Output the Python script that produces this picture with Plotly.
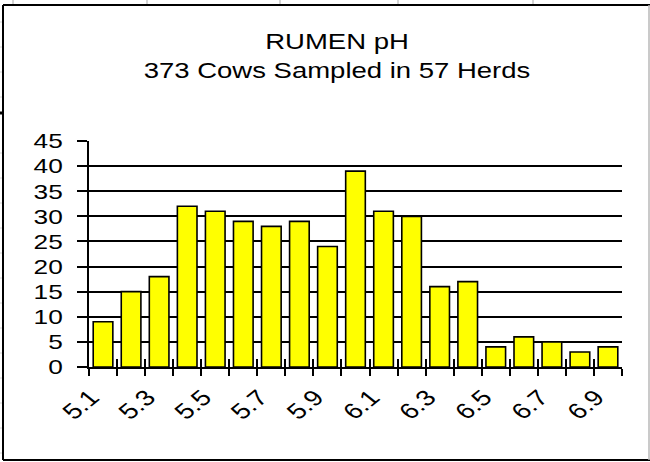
import plotly.graph_objects as go

# ---- data ----
ph_bins = ["5.1", "5.2", "5.3", "5.4", "5.5", "5.6", "5.7", "5.8", "5.9", "6.0",
           "6.1", "6.2", "6.3", "6.4", "6.5", "6.6", "6.7", "6.8", "6.9"]
cow_counts = [9, 15, 18, 32, 31, 29, 28, 29, 24, 39, 31, 30, 16, 17, 4, 6, 5, 3, 4]
tick_text = [b if i % 2 == 0 else "" for i, b in enumerate(ph_bins)]
title_lines = ["RUMEN pH", "373 Cows Sampled in 57 Herds"]

W, H = 650, 462
L, R, T, B = 89, 28, 141, 95
pw, ph = W - L - R, H - T - B

def px(x):
    return (x - L) / pw

def py(y):
    return 1 - (y - T) / ph

FONT = "Liberation Sans, Arial, sans-serif"

fig = go.Figure()
fig.add_trace(go.Bar(
    x=ph_bins, y=cow_counts,
    marker=dict(color="#FFFF00", line=dict(color="black", width=1.6)),
    hoverinfo="x+y", showlegend=False,
))
# invisible companion trace so the overlay axis knows the categories (for crossing ticks)
fig.add_trace(go.Scatter(
    x=ph_bins, y=cow_counts, xaxis="x2", mode="markers",
    marker=dict(opacity=0), hoverinfo="skip", showlegend=False,
))

fig.update_layout(
    width=W, height=H,
    margin=dict(l=L, r=R, t=T, b=B),
    paper_bgcolor="white", plot_bgcolor="white",
    bargap=0.3,
    font=dict(family=FONT, color="black"),
    title=dict(
        text="<br>".join(title_lines),
        font=dict(family=FONT, size=22, color="black"),
        x=337 / W, xanchor="center", xref="container",
        y=1 - 49 / H, yanchor="top", yref="container",
    ),
    xaxis=dict(
        type="category",
        tickmode="array", tickvals=ph_bins, ticktext=tick_text,
        tickson="boundaries",
        ticks="outside", ticklen=7, tickwidth=2, tickcolor="black",
        showline=True, linecolor="black", linewidth=2,
        showgrid=False, zeroline=False,
        tickangle=-45,
        tickfont=dict(family=FONT, size=22, color="black"),
        ticklabelshift=-9, ticklabelstandoff=7,
        range=[-0.5, len(ph_bins) - 0.5],
        fixedrange=True,
    ),
    xaxis2=dict(
        type="category", overlaying="x", matches="x", anchor="y", side="bottom",
        tickmode="array", tickvals=ph_bins,
        tickson="boundaries",
        ticks="inside", ticklen=8, tickwidth=2, tickcolor="black",
        showticklabels=False, showline=False, showgrid=False, zeroline=False,
    ),
    yaxis=dict(
        range=[0, 45], dtick=5, tick0=0,
        ticks="outside", ticklen=10, tickwidth=2, tickcolor="black",
        showgrid=True, gridcolor="black", gridwidth=1.8,
        showline=True, linecolor="black", linewidth=2,
        zeroline=False,
        tickfont=dict(family=FONT, size=21, color="black"),
        ticklabelstandoff=10,
        fixedrange=True,
    ),
)

shapes = []
# chart frame
shapes.append(dict(type="line", xref="paper", yref="paper", x0=px(3), x1=px(650), y0=py(5), y1=py(5),
                   line=dict(color="black", width=2)))
shapes.append(dict(type="line", xref="paper", yref="paper", x0=px(3), x1=px(3), y0=py(5), y1=py(460),
                   line=dict(color="black", width=2)))
shapes.append(dict(type="line", xref="paper", yref="paper", x0=px(3), x1=px(650), y0=py(460), y1=py(460),
                   line=dict(color="black", width=2)))
shapes.append(dict(type="line", xref="paper", yref="paper", x0=px(649), x1=px(649), y0=py(5), y1=py(460),
                   line=dict(color="#b8b8b8", width=1.5)))
# spreadsheet cell lines peeking out behind the chart
for gx in [13, 147, 280, 398, 533]:
    shapes.append(dict(type="line", xref="paper", yref="paper", x0=px(gx), x1=px(gx), y0=py(0), y1=py(4),
                       line=dict(color="#d4d4d4", width=2)))
for gy in [22, 47, 72, 97, 153, 178, 203, 228, 253, 278, 303, 328, 353, 378, 403, 428, 453]:
    shapes.append(dict(type="line", xref="paper", yref="paper", x0=px(0), x1=px(2), y0=py(gy), y1=py(gy),
                       line=dict(color="#d4d4d4", width=1)))
shapes.append(dict(type="line", xref="paper", yref="paper", x0=px(0), x1=px(3), y0=py(113), y1=py(113),
                   line=dict(color="black", width=3)))
fig.update_layout(shapes=shapes)

# The original chart's lettering is horizontally widened; reproduce that by
# scaling the (still real) SVG text horizontally around its anchor point.
post_js = """
document.body.style.margin = '0px';
(function(){
  var S = 1.25;
  function stretch(el, mode){
    var g = document.createElementNS('http://www.w3.org/2000/svg', 'g');
    el.parentNode.insertBefore(g, el);
    g.appendChild(el);
    var b = g.getBBox();
    if (!b.width) return;
    var ax = (mode === 'end') ? (b.x + b.width) : (b.x + b.width / 2);
    g.setAttribute('transform', 'translate(' + ax + ',0) scale(' + S + ',1) translate(' + (-ax) + ',0)');
  }
  document.querySelectorAll('.ytick text, .xtick text').forEach(function(t){ stretch(t, 'end'); });
  document.querySelectorAll('text.gtitle').forEach(function(t){ stretch(t, 'middle'); });
})();
"""

fig.write_html("out.html", config={"displayModeBar": False}, post_script=post_js)
